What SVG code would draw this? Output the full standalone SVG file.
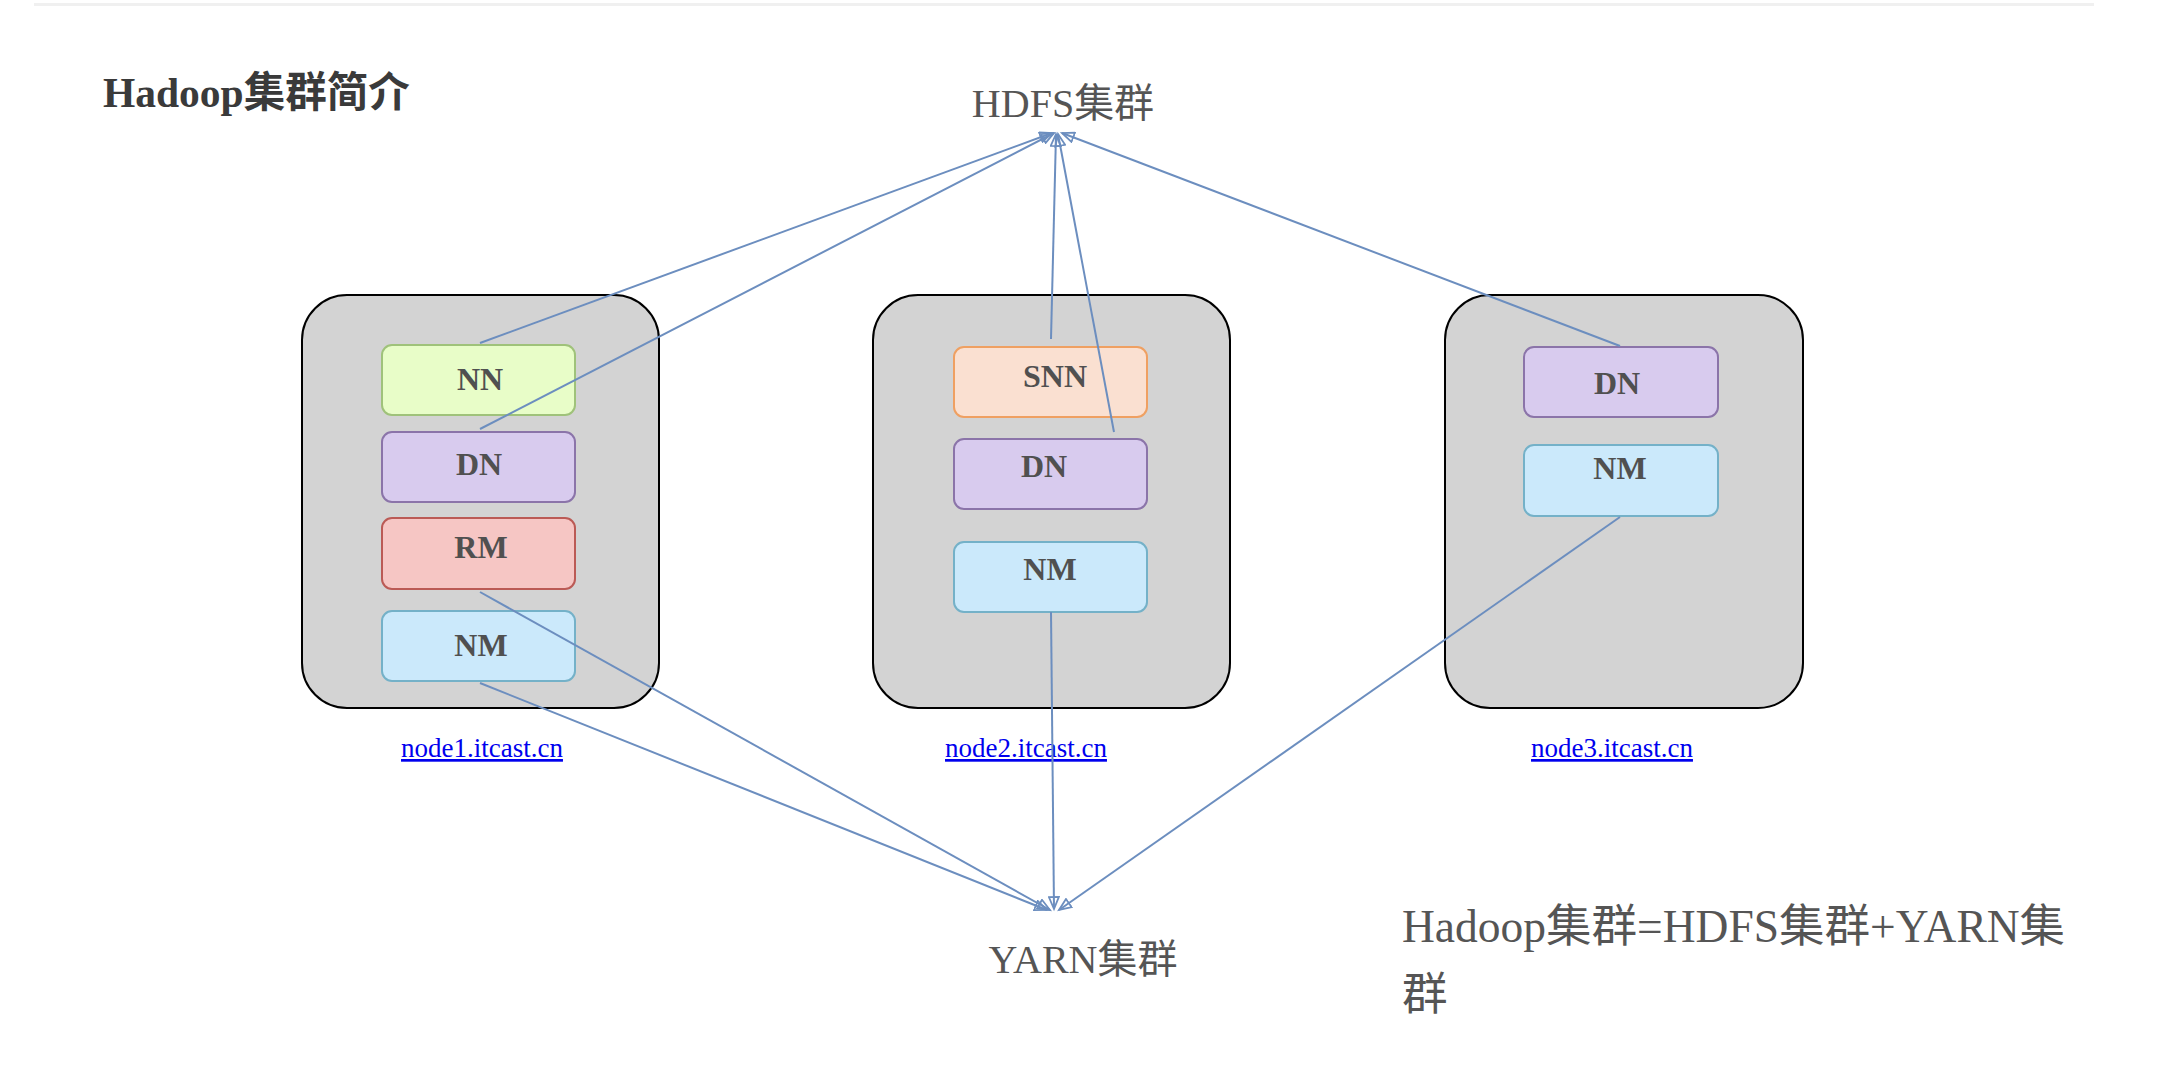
<svg xmlns="http://www.w3.org/2000/svg" width="2160" height="1080" viewBox="0 0 2160 1080">
<style>
.host{fill:#d3d3d3;stroke:#000;stroke-width:2}
.svc{stroke-width:2}
.nn{fill:#e8fdc8;stroke:#9fc27a}
.dn{fill:#d8cbee;stroke:#8b74a9}
.rm{fill:#f6c6c4;stroke:#bb5a55}
.nm{fill:#cbe9fb;stroke:#74b1c8}
.snn{fill:#fae0d1;stroke:#efa062}
.lbl{font-family:"Liberation Serif","Times New Roman",serif;font-weight:bold;font-size:32px;fill:#505050;text-anchor:middle}
.link{font-family:"Liberation Serif","Times New Roman",serif;font-size:27px;fill:#0000ee;text-decoration:underline;text-anchor:middle}
.big{font-family:"Liberation Serif","Noto Sans CJK SC",serif;font-size:40px;fill:#555}
.edge{stroke:#6c8ebf;stroke-width:2;fill:none;marker-end:url(#arr)}
</style>
<defs>
<marker id="arr" markerUnits="userSpaceOnUse" markerWidth="16" markerHeight="12" refX="13" refY="6" orient="auto">
<path d="M1,1 L13,6 L1,11 Z" fill="none" stroke="#6c8ebf" stroke-width="1.8"/>
</marker>
</defs>
<rect x="34" y="3" width="2060" height="3" fill="#f0f0f0"/>
<text x="103" y="107" style="font-family:'Liberation Serif','Noto Sans CJK SC',serif;font-weight:bold;font-size:41.5px;fill:#3a3a3a">Hadoop集群简介</text>
<text id="hdfs" class="big" x="1063" y="117" text-anchor="middle">HDFS集群</text>
<text id="yarn" class="big" x="1083" y="973" text-anchor="middle">YARN集群</text>
<g id="summary" style="font-family:'Liberation Serif','Noto Sans CJK SC',serif;font-size:45.5px;fill:#555">
<text x="1402" y="942">Hadoop集群=HDFS集群+YARN集</text>
<text x="1402" y="1010">群</text>
</g>
<g id="node1">
<rect class="host" x="302" y="295" width="357" height="413" rx="45"/>
<text class="link" x="482" y="757">node1.itcast.cn</text>
</g>
<g id="node1-nn"><rect class="svc nn" x="382" y="345" width="193" height="70" rx="10"/><text class="lbl" x="480" y="390">NN</text></g>
<g id="node1-dn"><rect class="svc dn" x="382" y="432" width="193" height="70" rx="10"/><text class="lbl" x="479" y="475">DN</text></g>
<g id="node1-rm"><rect class="svc rm" x="382" y="518" width="193" height="71" rx="10"/><text class="lbl" x="481" y="558">RM</text></g>
<g id="node1-nm"><rect class="svc nm" x="382" y="611" width="193" height="70" rx="10"/><text class="lbl" x="481" y="656">NM</text></g>
<g id="node2">
<rect class="host" x="873" y="295" width="357" height="413" rx="45"/>
<text class="link" x="1026" y="757">node2.itcast.cn</text>
</g>
<g id="node2-snn"><rect class="svc snn" x="954" y="347" width="193" height="70" rx="10"/><text class="lbl" x="1055" y="387">SNN</text></g>
<g id="node2-dn"><rect class="svc dn" x="954" y="439" width="193" height="70" rx="10"/><text class="lbl" x="1044" y="477">DN</text></g>
<g id="node2-nm"><rect class="svc nm" x="954" y="542" width="193" height="70" rx="10"/><text class="lbl" x="1050" y="580">NM</text></g>
<g id="node3">
<rect class="host" x="1445" y="295" width="358" height="413" rx="45"/>
<text class="link" x="1612" y="757">node3.itcast.cn</text>
</g>
<g id="node3-dn"><rect class="svc dn" x="1524" y="347" width="194" height="70" rx="10"/><text class="lbl" x="1617" y="394">DN</text></g>
<g id="node3-nm"><rect class="svc nm" x="1524" y="445" width="194" height="71" rx="10"/><text class="lbl" x="1620" y="479">NM</text></g>
<g id="connectors">
<path class="edge" d="M480,343 L1052,133"/>
<path class="edge" d="M480,429 L1054,133"/>
<path class="edge" d="M1051,339 L1056,134"/>
<path class="edge" d="M1114,432 L1058,134"/>
<path class="edge" d="M1620,346 L1062,133"/>
<path class="edge" d="M480,592 L1050,910"/>
<path class="edge" d="M480,683 L1047,910"/>
<path class="edge" d="M1051,612 L1054,909"/>
<path class="edge" d="M1620,517 L1059,910"/>
</g>
</svg>
